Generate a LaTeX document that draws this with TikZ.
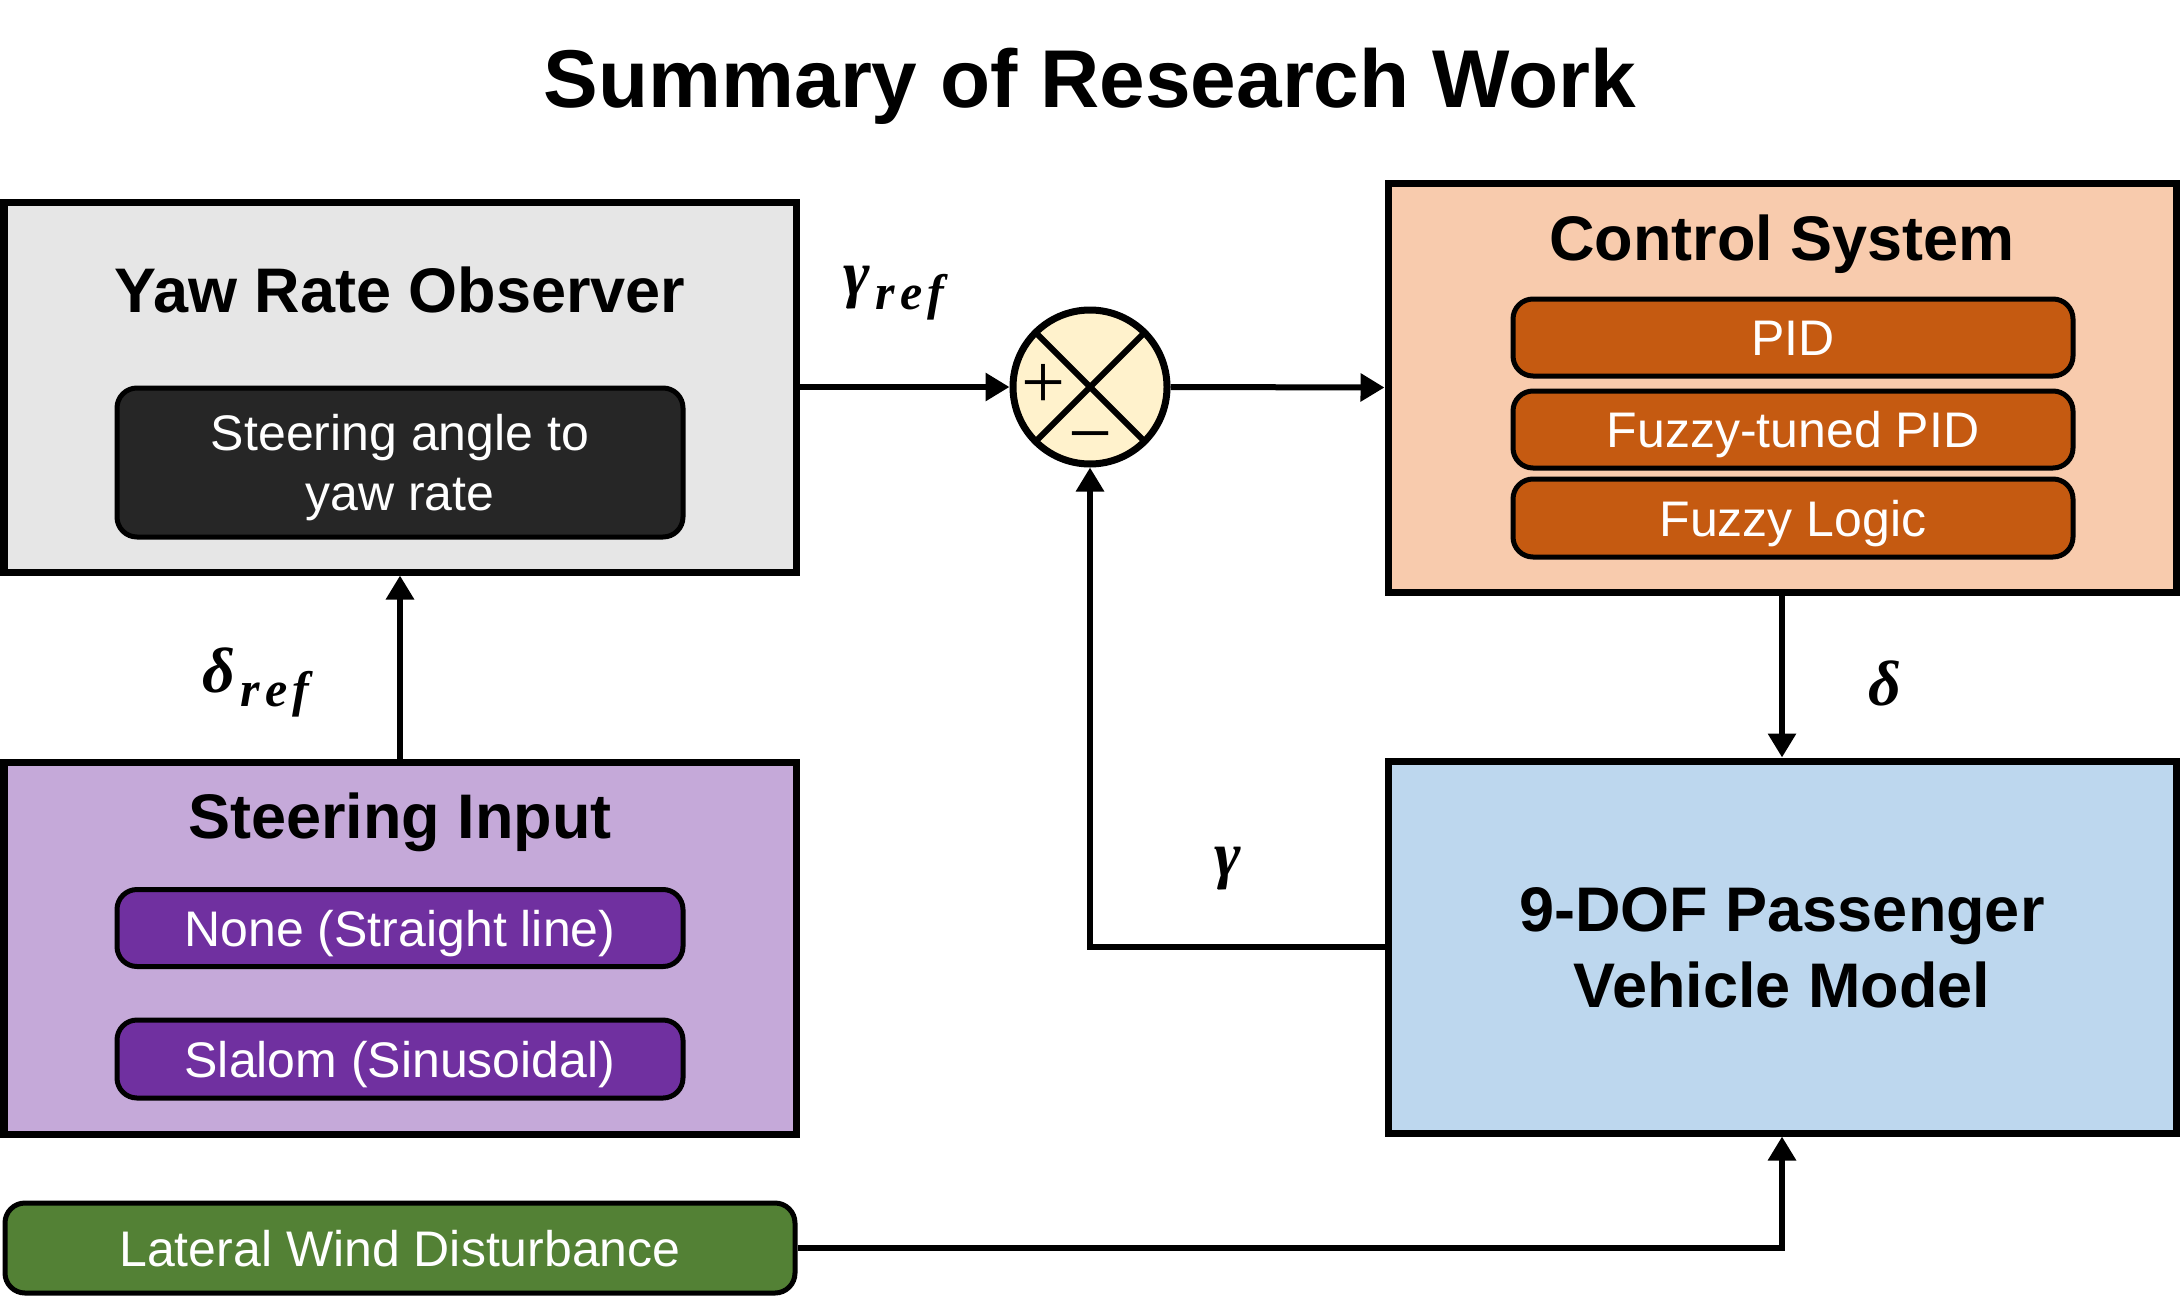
\documentclass[tikz,border=0pt]{standalone}
\usepackage{fontspec}
\setmainfont{Liberation Sans}
\newfontfamily\grk{Liberation Serif}
\usetikzlibrary{arrows.meta}
\definecolor{obsfill}{HTML}{E6E6E6}
\definecolor{darkbox}{HTML}{262626}
\definecolor{steerfill}{HTML}{C5A9D9}
\definecolor{purplebox}{HTML}{7030A0}
\definecolor{greenbox}{HTML}{538135}
\definecolor{ctrlfill}{HTML}{F8CBAD}
\definecolor{orangebox}{HTML}{C55A11}
\definecolor{vehfill}{HTML}{BDD7EE}
\definecolor{sumfill}{HTML}{FFF2CC}
\newcommand{\symref}[1]{{\grk\bfseries\itshape\fontsize{64}{70}\selectfont #1\kern6pt\raisebox{-14pt}{\fontsize{50}{50}\selectfont r\kern5pt e\kern5pt f}}}
\begin{document}
\begin{tikzpicture}[x=1pt,y=-1pt,
  bigbox/.style={draw=black, line width=7pt, rectangle, inner sep=0pt},
  pill/.style={draw=black, line width=5pt, rounded corners=20pt, inner sep=0pt,
    text=white, font=\fontsize{50}{60}\selectfont, text height=36pt, text depth=0pt},
  hdr/.style={font=\bfseries\fontsize{63}{72}\selectfont, anchor=base},
  inner/.style={font=\fontsize{50}{60}\selectfont, text=white, anchor=base},
  lbl/.style={font=\grk\bfseries\itshape\fontsize{64}{70}\selectfont, inner sep=0pt},
  sign/.style={font=\grk\fontsize{78}{80}\selectfont, inner sep=0pt, anchor=base},
  arr/.style={line width=6pt, -{Triangle[length=24pt,width=27pt]}}
]
\path[fill=white,use as bounding box] (0,0) rectangle (2181,1306);

\node[font=\bfseries\fontsize{82}{96}\selectfont, anchor=base] (title) at (1090,107) {Summary of Research Work};

% Yaw rate observer
\node[bigbox, fill=obsfill, minimum width=792pt, minimum height=370pt] (yaw) at (400,387) {};
\node[hdr] (yawT) at (400,312) {Yaw Rate Observer};
\node[pill, fill=darkbox, minimum width=566pt, minimum height=149pt] (obs) at (400,462.5) {};
\node[inner] (obsA) at (400,450) {Steering angle to};
\node[inner] (obsB) at (400,510) {yaw rate};

% Steering input
\node[bigbox, fill=steerfill, minimum width=792pt, minimum height=372pt] (steer) at (400,948) {};
\node[hdr] (steerT) at (400,838) {Steering Input};
\node[pill, fill=purplebox, minimum width=566pt, minimum height=77pt] (none) at (400,928) {None (Straight line)};
\node[pill, fill=purplebox, minimum width=566pt, minimum height=78pt] (slalom) at (400,1059) {Slalom (Sinusoidal)};

% Wind
\node[pill, fill=greenbox, minimum width=790pt, minimum height=90pt] (wind) at (400,1248) {Lateral Wind Disturbance};

% Control system
\node[bigbox, fill=ctrlfill, minimum width=788pt, minimum height=409pt] (ctrl) at (1782,387.5) {};
\node[hdr] (ctrlT) at (1782,260) {Control System};
\node[pill, fill=orangebox, minimum width=560pt, minimum height=77pt] (pid) at (1793,337.5) {PID};
\node[pill, fill=orangebox, minimum width=560pt, minimum height=77pt] (fpid) at (1793,429.5) {Fuzzy-tuned PID};
\node[pill, fill=orangebox, minimum width=560pt, minimum height=78pt] (flc) at (1793,518) {Fuzzy Logic};

% Vehicle
\node[bigbox, fill=vehfill, minimum width=788pt, minimum height=372pt] (veh) at (1782,947) {};
\node[hdr] (vehA) at (1782,931) {9-DOF Passenger};
\node[hdr] (vehB) at (1782,1007) {Vehicle Model};

% Summing junction
\node[circle, draw=black, line width=7pt, fill=sumfill, minimum size=154pt, inner sep=0pt] (sum) at (1090,387) {};
\draw[line width=6pt] (sum.center) ++(-54.5,-54.5) -- ++(109,109);
\draw[line width=6pt] (sum.center) ++(54.5,-54.5) -- ++(-109,109);
\node[sign] (plus) at (1043,408) {+};
\node[sign] (minus) at (1090,459) {\char"2212};

% Connectors
\draw[arr] (yaw.east) -- (sum.west);
\draw[arr] (sum.east) -- (ctrl.west);
\draw[arr] (ctrl.south) -- (veh.north);
\draw[arr] (veh.west) -| (sum.south);
\draw[arr] (steer.north) -- (yaw.south);
\draw[arr] (wind.east) -| (veh.south);

% Labels
\node[inner sep=0pt, anchor=base west] (lgref) at (843,295) {\symref{γ}};
\node[inner sep=0pt, anchor=base west] (ldref) at (202,692) {\symref{δ}};
\node[lbl, anchor=base] (ld) at (1885,705) {δ};
\node[lbl, anchor=base] (lg) at (1228,876) {γ};
\end{tikzpicture}
\end{document}
